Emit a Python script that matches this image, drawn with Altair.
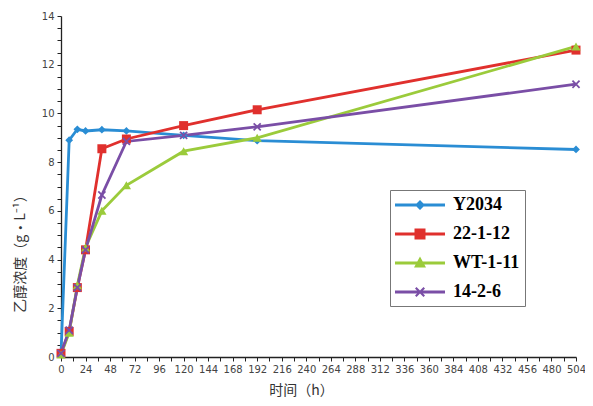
import altair as alt
import pandas as pd

# ---- data ----
hours = [0, 8, 16, 24, 40, 64, 120, 192, 504]
series_names = ["Y2034", "22-1-12", "WT-1-11", "14-2-6"]
y2034 = [0.1, 8.9, 9.35, 9.28, 9.33, 9.28, 9.1, 8.88, 8.52]
s22_1_12 = [0.15, 1.05, 2.85, 4.4, 8.55, 8.95, 9.5, 10.15, 12.6]
wt_1_11 = [0.1, 1.0, 2.95, 4.5, 6.0, 7.05, 8.45, 9.0, 12.75]
s14_2_6 = [0.15, 1.1, 2.85, 4.4, 6.65, 8.85, 9.1, 9.45, 11.2]
colors = ["#2a8dd4", "#e0302d", "#9bcb3b", "#7a4ea6"]

x_ticks = list(range(0, 505, 12))
y_ticks = [i * 0.5 for i in range(0, 29)]

rows = []
for name, vals in zip(series_names, [y2034, s22_1_12, wt_1_11, s14_2_6]):
    for h, v in zip(hours, vals):
        rows.append({"hour": h, "value": v, "series": name})
df = pd.DataFrame(rows)


# ---- marker shapes (style) ----
def fmt(pts, dx=0.0, s=1.0):
    return "M" + "L".join(f"{dx + px * s:.3f},{py * s:.3f}" for px, py in pts) + "Z"


t = 0.3
x_pts = [(-1, -1 + t), (-1 + t, -1), (0, -t), (1 - t, -1), (1, -1 + t), (t, 0),
         (1, 1 - t), (1 - t, 1), (0, t), (-1 + t, 1), (-1, 1 - t), (-t, 0)]
diamond_pts = [(0, -1), (1, 0), (0, 1), (-1, 0)]
square_pts = [(-1, -1), (1, -1), (1, 1), (-1, 1)]
tri_pts = [(0, -1.1), (1.0, 0.75), (-1.0, 0.75)]
x_path = fmt(x_pts)

line_rect = "M-1,-0.16L4,-0.16L4,0.16L-1,0.16Z"
cx = 1.5
legend_paths = [
    line_rect + fmt(diamond_pts, cx, 0.5),
    line_rect + fmt(square_pts, cx, 0.55),
    line_rect + fmt(tri_pts, cx, 0.6),
    line_rect + fmt(x_pts, cx, 0.5),
]
point_shapes = ["diamond", "square", "triangle-up", x_path]
point_sizes = [60, 81, 85, 70]

base = alt.Chart(df)

x_enc = alt.X(
    "hour:Q",
    scale=alt.Scale(domain=[0, 504], nice=False, zero=False),
    axis=alt.Axis(
        values=x_ticks,
        labelExpr="datum.value % 24 == 0 ? datum.value : ''",
        labelOverlap=False,
        labelFlush=False,
        title="时间（h）",
        titleX=240,
        titleY=33,
        titleBaseline="middle",
        titleAlign="center",
        grid=False,
    ),
)
y_enc = alt.Y(
    "value:Q",
    scale=alt.Scale(domain=[0, 14], nice=False),
    axis=alt.Axis(
        values=y_ticks,
        labelExpr="datum.value % 2 == 0 ? datum.value : ''",
        labelOverlap=False,
        labelFlush=False,
        title="乙醇浓度（g•L⁻¹）",
        titleX=-41,
        titleY=234,
        titleBaseline="middle",
        titleAlign="center",
        grid=False,
    ),
)
color_scale = alt.Scale(domain=series_names, range=colors)

line_layers = []
point_layers = []
for name, shp, sz, c in zip(series_names, point_shapes, point_sizes, colors):
    sub = base.transform_filter(alt.datum.series == name)
    line_layers.append(
        sub.mark_line(strokeWidth=2.8, color=c).encode(x=x_enc, y=y_enc)
    )
    point_layers.append(
        sub.mark_point(shape=shp, size=sz, filled=True, opacity=1, color=c, strokeWidth=0)
        .encode(x=x_enc, y=y_enc)
    )

legend_common = dict(
    title=None,
    orient="none",
    legendX=329,
    legendY=174,
    strokeColor="#777777",
    fillColor="white",
    padding=5,
    labelFont="Liberation Serif",
    labelFontSize=18,
    labelFontWeight="bold",
    labelColor="black",
    symbolSize=400,
    symbolStrokeWidth=0,
    labelOffset=38,
    rowPadding=10,
)

legend_layer = base.transform_filter("false").mark_point(
    filled=True, opacity=1, size=400
).encode(
    x=x_enc, y=y_enc,
    color=alt.Color("series:N", scale=color_scale, legend=alt.Legend(**legend_common)),
    shape=alt.Shape("series:N", scale=alt.Scale(domain=series_names, range=legend_paths),
                    legend=alt.Legend(**legend_common)),
)

chart = (
    alt.layer(*line_layers, *point_layers, legend_layer)
    .properties(
        width=515,
        height=341,
        autosize=alt.AutoSizeParams(type="none"),
        padding={"left": 53, "top": 8, "right": 9, "bottom": 41},
    )
    .configure_view(strokeWidth=0)
    .configure_axis(
        domainColor="#222222",
        domainWidth=1.3,
        tickColor="#222222",
        tickSize=4,
        labelFont="DejaVu Sans",
        labelFontSize=10,
        labelColor="#444444",
        labelPadding=3,
        titleFont="Noto Sans CJK SC",
        titleFontSize=14,
        titleFontWeight="normal",
        titleColor="#333333",
    )
)

chart.save("out.html", embed_options={"renderer": "svg", "actions": False})
